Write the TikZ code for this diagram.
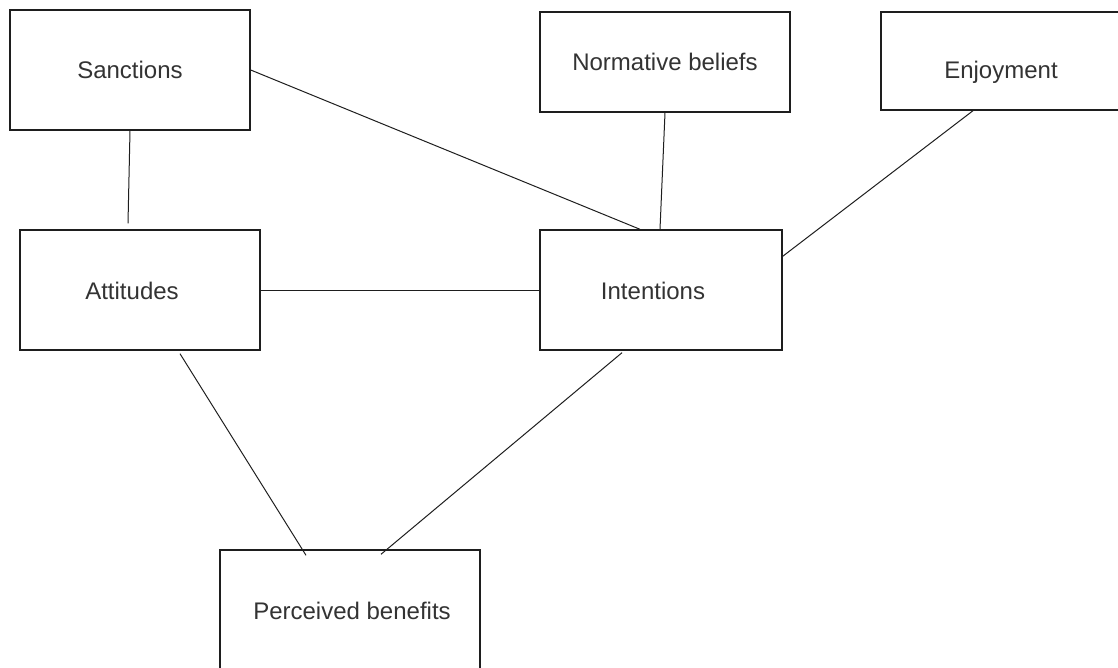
\documentclass[tikz,border=0pt]{standalone}
\usepackage{fontspec}
\setmainfont{Liberation Sans}
\definecolor{txtgray}{HTML}{333333}
\definecolor{linegray}{HTML}{1E1E1E}
\begin{document}
\begin{tikzpicture}[x=1pt,y=-1pt,
  box/.style={draw=linegray,line width=1.4pt,rectangle,inner sep=0pt,
    text=txtgray,font=\fontsize{24}{28}\selectfont},
  lbl/.style={text=txtgray,font=\fontsize{24}{28}\selectfont,inner sep=0pt},
  conn/.style={draw=linegray,line width=1pt}]
\useasboundingbox (0,0) rectangle (1118,668);
\clip (0,0) rectangle (1118,668);
\fill[white] (0,0) rectangle (1118,668);

\node[box,minimum width=240pt,minimum height=120pt] (sanc) at (130,70)
  {\raisebox{-3pt}{Sanctions}};
\node[box,minimum width=250pt,minimum height=100pt] (norm) at (665,62)
  {Normative beliefs};
\node[box,minimum width=240pt,minimum height=98pt,
  label={[lbl,yshift=-11pt]center:Enjoyment}] (enj) at (1001,61) {};
\node[box,minimum width=240pt,minimum height=120pt,
  label={[lbl,xshift=-8pt,yshift=-1pt]center:Attitudes}] (att) at (140,290) {};
\node[box,minimum width=242pt,minimum height=120pt,
  label={[lbl,xshift=-8pt,yshift=-1pt]center:Intentions}] (int) at (661,290) {};
\node[box,minimum width=260pt,minimum height=120pt,
  label={[lbl,xshift=2pt,yshift=-1pt]center:Perceived benefits}] (per) at (350,610) {};

\draw[conn] (sanc.south) -- ([xshift=-12pt,yshift=6pt]att.north);
\draw[conn] (sanc.east) -- ([xshift=-21pt]int.north);
\draw[conn] (norm.south) -- ([xshift=-1pt]int.north);
\draw[conn] ([xshift=-28pt]enj.south) -- ([yshift=-27pt]int.north east);
\draw[conn] (att.east) -- (int.west);
\draw[conn] ([xshift=40pt,yshift=-3pt]att.south) -- ([xshift=-44pt,yshift=-6pt]per.north);
\draw[conn] ([xshift=-39pt,yshift=-2pt]int.south) -- ([xshift=31pt,yshift=-5pt]per.north);
\end{tikzpicture}
\end{document}
